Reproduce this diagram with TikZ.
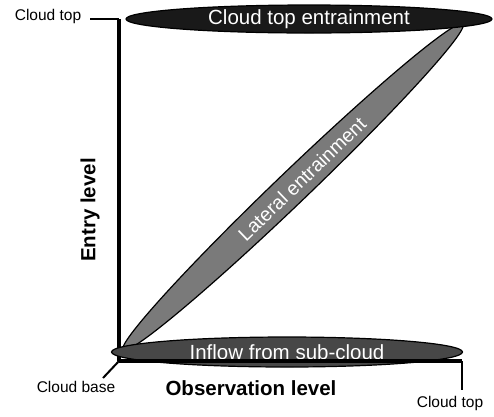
\documentclass[tikz,border=0pt]{standalone}
\usepackage{fontspec}
\setmainfont{Liberation Sans}
\usetikzlibrary{shapes.geometric}
\tikzstyle{cloudpart}=[ellipse,draw=black,line width=1.2pt,inner sep=0pt,text=white,font=\fontsize{20.5}{24}\selectfont]
\tikzstyle{smalllabel}=[font=\fontsize{15.5}{18}\selectfont,inner sep=0pt]
\tikzstyle{axislabel}=[font=\bfseries\fontsize{20.5}{24}\selectfont,inner sep=0pt]
\tikzstyle{axisline}=[draw,line width=3.5pt]
\tikzstyle{tickline}=[draw,line width=2pt]

\begin{document}
\begin{tikzpicture}[x=1pt,y=-1pt]
    \useasboundingbox (0,0) rectangle (494,416);
    % corners of the axes
    \coordinate (vtop) at (119,19);
    \coordinate (origin) at (119,361);
    \coordinate (hend) at (462,361);
    \coordinate (topend) at (90,19);
    \coordinate (hdown) at (462,390);
    \coordinate (basetick) at (103,378);

    \path[axisline] (vtop) -- (origin);

    \node[cloudpart, fill=black!52, minimum width=471pt, minimum height=32pt, rotate=43.8] (lateral) at (293,187) {};
    \node[cloudpart, fill=black!90, minimum width=366pt, minimum height=28pt] (cloudtop) at (309,19) {Cloud top entrainment};
    \node[cloudpart, fill=black!72, minimum width=351pt, minimum height=30pt] (inflow) at (287,352) {Inflow from sub-cloud};
    \node[cloudpart, draw=none, fill=none, rotate=43.8, font=\fontsize{19.5}{22}\selectfont] (laterallabel) at (302,179) {Lateral entrainment};

    \path[axisline] (origin) -- (hend);
    \foreach \source/ \dest in {topend/vtop, hend/hdown, origin/basetick}
        \path[tickline] (\source) -- (\dest);

    \foreach \pos/\name/\label in {{(48,16)/topleft/Cloud top}, {(76,387)/cloudbase/Cloud base}, {(450,403)/topright/Cloud top}}
        \node[smalllabel] (\name) at \pos {\label};

    \node[axislabel] (observation) at (251,388) {Observation level};
    \node[axislabel, rotate=90] (entry) at (90,210) {Entry level};
\end{tikzpicture}
\end{document}
